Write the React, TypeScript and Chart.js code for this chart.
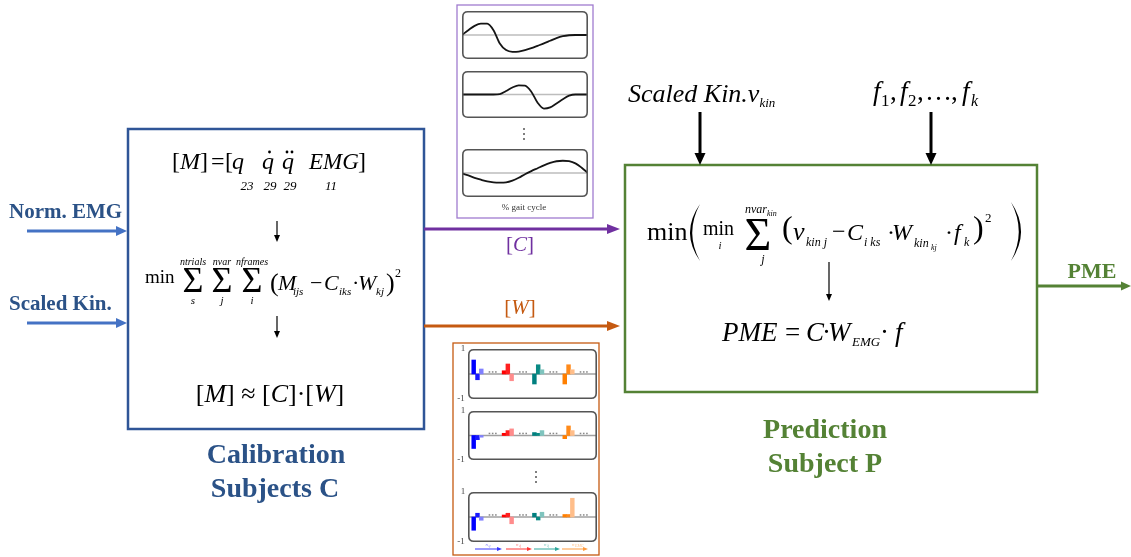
import React, { useEffect, useRef } from "react";
import { Chart, registerables } from "chart.js";
Chart.register(...registerables);

const FONT = '"Liberation Serif", "Times New Roman", serif';

// [C] inset: synergy activation curves over the gait cycle
const gaitCycle = [0, 5, 10, 15, 20, 25, 30, 35, 40, 45, 50, 55, 60, 65, 70, 75, 80, 85, 90, 95, 100];
const synergyC1 = [0, 0.2, 0.38, 0.47, 0.47, 0.2, -0.35, -0.63, -0.7, -0.69, -0.63, -0.55, -0.45, -0.35, -0.24, -0.13, -0.05, -0.01, 0, 0, 0];
const synergyC2 = [0, 0, 0, 0, 0, 0, 0.02, 0.15, 0.3, 0.39, 0.38, 0.12, -0.35, -0.6, -0.55, -0.38, -0.2, -0.05, 0, 0, 0];
const synergyC3 = [-0.02, -0.1, -0.2, -0.28, -0.35, -0.39, -0.4, -0.39, -0.32, -0.2, -0.05, 0.08, 0.2, 0.32, 0.42, 0.49, 0.51, 0.49, 0.4, 0.22, 0];

// [W] inset: synergy weights, three shown per variable group
const variableGroups = ["q", "q\u0307", "q\u0308", "EMG"];
const weightsW1 = [0.56, -0.23, 0.2, 0.13, 0.4, -0.27, -0.4, 0.37, 0.17, -0.4, 0.37, 0.17];
const weightsW2 = [-0.53, -0.17, -0.07, 0.09, 0.2, 0.27, 0.12, 0.09, 0.2, -0.13, 0.39, 0.2];
const weightsW3 = [-0.53, 0.15, -0.13, 0.08, 0.15, -0.27, 0.15, -0.12, 0.19, 0.1, 0.1, 0.75];
const weightTicks = [1, -1];
const weightTickLabels = ["1", "-1"];

const groupColors = [
  ["#0000FF", "#1A1AFF", "#8080FF"],
  ["#FF0000", "#FF2020", "#FF8C8C"],
  ["#007F7F", "#0A8A84", "#7FC4BE"],
  ["#FF7F00", "#FF8A1A", "#FFBE8A"],
];
const arrowColors = ["#3535FF", "#FF3535", "#2FA79C", "#FF9B3D"];

const EMPTY_AFTER = 5;

function buildSlots(w: number[]) {
  const vals: (number | null)[] = [null];
  const cols: string[] = ["#fff"];
  const labels: string[] = ["start"];
  variableGroups.forEach((g, gi) => {
    for (let k = 0; k < 3; k++) {
      vals.push(w[gi * 3 + k]);
      cols.push(groupColors[gi][k]);
      labels.push(g + (k + 1));
    }
    for (let k = 0; k < EMPTY_AFTER; k++) {
      vals.push(null);
      cols.push("#fff");
      labels.push(g + "-gap" + k);
    }
  });
  vals.push(null);
  cols.push("#fff");
  labels.push("end");
  return { vals, cols, labels };
}

function roundRect(ctx: CanvasRenderingContext2D, x: number, y: number, w: number, h: number, r: number) {
  ctx.beginPath();
  ctx.moveTo(x + r, y);
  ctx.lineTo(x + w - r, y);
  ctx.quadraticCurveTo(x + w, y, x + w, y + r);
  ctx.lineTo(x + w, y + h - r);
  ctx.quadraticCurveTo(x + w, y + h, x + w - r, y + h);
  ctx.lineTo(x + r, y + h);
  ctx.quadraticCurveTo(x, y + h, x, y + h - r);
  ctx.lineTo(x, y + r);
  ctx.quadraticCurveTo(x, y, x + r, y);
  ctx.closePath();
}

const curvePanelPlugin = {
  id: "curvePanel",
  beforeDatasetsDraw(chart: any) {
    const { ctx, chartArea: a, scales } = chart;
    const y0 = scales.y.getPixelForValue(0);
    ctx.save();
    ctx.strokeStyle = "#BDBDBD";
    ctx.lineWidth = 1.5;
    ctx.beginPath();
    ctx.moveTo(a.left, y0);
    ctx.lineTo(a.right, y0);
    ctx.stroke();
    ctx.restore();
  },
  afterDraw(chart: any) {
    const { ctx, chartArea: a } = chart;
    ctx.save();
    ctx.strokeStyle = "#555";
    ctx.lineWidth = 1.6;
    roundRect(ctx, a.left + 0.8, a.top + 0.8, a.right - a.left - 1.6, a.bottom - a.top - 1.6, 5);
    ctx.stroke();
    ctx.restore();
  },
};

const weightPanelPlugin = {
  id: "weightPanel",
  beforeDatasetsDraw(chart: any) {
    const { ctx, chartArea: a, scales } = chart;
    const y0 = scales.y.getPixelForValue(0);
    ctx.save();
    ctx.strokeStyle = "#A0A0A0";
    ctx.lineWidth = 1.3;
    ctx.beginPath();
    ctx.moveTo(a.left, y0);
    ctx.lineTo(a.right, y0);
    ctx.stroke();
    // "..." between groups
    ctx.fillStyle = "#888";
    variableGroups.forEach((_, gi) => {
      const idx = 1 + gi * (3 + EMPTY_AFTER) + 3 + Math.floor(EMPTY_AFTER / 2);
      const cx = scales.x.getPixelForValue(idx);
      for (let d = -1; d <= 1; d++) ctx.fillRect(cx + d * 3.2 - 0.8, y0 - 2.8, 1.6, 1.5);
    });
    // axis labels 1 / -1
    ctx.font = `normal 9px ${FONT}`;
    ctx.fillStyle = "#444";
    ctx.textAlign = "center";
    ctx.textBaseline = "middle";
    weightTicks.forEach((v, i) => {
      ctx.fillText(weightTickLabels[i], a.left - (v < 0 ? 7 : 5), scales.y.getPixelForValue(v));
    });
    ctx.restore();
  },
  afterDatasetsDraw(chart: any) {
    const { ctx, chartArea: a } = chart;
    ctx.save();
    ctx.strokeStyle = "#555";
    ctx.lineWidth = 1.6;
    roundRect(ctx, a.left + 0.8, a.top + 0.8, a.right - a.left - 1.6, a.bottom - a.top - 1.6, 5);
    ctx.stroke();
    ctx.restore();
  },
};

function curveConfig(values: number[]): any {
  return {
    type: "line",
    data: {
      labels: gaitCycle.map(String),
      datasets: [
        {
          data: values,
          borderColor: "#151515",
          borderWidth: 1.8,
          pointRadius: 0,
          cubicInterpolationMode: "monotone",
          fill: false,
        },
      ],
    },
    options: {
      animation: false,
      responsive: false,
      events: [],
      layout: { padding: 0 },
      plugins: { legend: { display: false }, tooltip: { enabled: false } },
      scales: {
        x: { display: false },
        y: { display: false, min: -1, max: 1 },
      },
    },
    plugins: [curvePanelPlugin],
  };
}

function weightConfig(w: number[]): any {
  const s = buildSlots(w);
  return {
    type: "bar",
    data: {
      labels: s.labels,
      datasets: [
        {
          data: s.vals,
          backgroundColor: s.cols,
          borderWidth: 0,
          barPercentage: 1,
          categoryPercentage: 1,
        },
      ],
    },
    options: {
      animation: false,
      responsive: false,
      events: [],
      layout: { padding: { top: 5, bottom: 5, left: 13, right: 1 } },
      plugins: { legend: { display: false }, tooltip: { enabled: false } },
      scales: {
        x: { display: false },
        y: { display: false, min: -1, max: 1 },
      },
    },
    plugins: [weightPanelPlugin],
  };
}

type Part = [string, number, string, number?];

function setFont(ctx: CanvasRenderingContext2D, size: number, style: string) {
  ctx.font = `${style} ${size}px ${FONT}`;
}

function txt(ctx: CanvasRenderingContext2D, s: string, x: number, y: number, size: number, style: string, color: string, align: CanvasTextAlign = "left") {
  setFont(ctx, size, style);
  ctx.fillStyle = color;
  ctx.textAlign = align;
  ctx.textBaseline = "alphabetic";
  ctx.fillText(s, x, y);
  return x + ctx.measureText(s).width;
}

function flowWidth(ctx: CanvasRenderingContext2D, parts: Part[]) {
  let w = 0;
  for (const p of parts) {
    setFont(ctx, p[1], p[2]);
    w += ctx.measureText(p[0]).width;
  }
  return w;
}

function flow(ctx: CanvasRenderingContext2D, x: number, y: number, parts: Part[], color: string) {
  for (const p of parts) x = txt(ctx, p[0], x, y + (p[3] || 0), p[1], p[2], color);
  return x;
}

function arrow(ctx: CanvasRenderingContext2D, x1: number, y1: number, x2: number, y2: number, color: string, lw: number, hl: number, hw: number) {
  const ang = Math.atan2(y2 - y1, x2 - x1);
  const bx = x2 - hl * Math.cos(ang);
  const by = y2 - hl * Math.sin(ang);
  ctx.strokeStyle = color;
  ctx.lineWidth = lw;
  ctx.beginPath();
  ctx.moveTo(x1, y1);
  ctx.lineTo(bx + 0.5 * Math.cos(ang), by + 0.5 * Math.sin(ang));
  ctx.stroke();
  ctx.fillStyle = color;
  ctx.beginPath();
  ctx.moveTo(x2, y2);
  ctx.lineTo(bx + (hw / 2) * Math.sin(ang), by - (hw / 2) * Math.cos(ang));
  ctx.lineTo(bx - (hw / 2) * Math.sin(ang), by + (hw / 2) * Math.cos(ang));
  ctx.closePath();
  ctx.fill();
}

const BLUE = "#2F5597";
const BLUE_TXT = "#2B5287";
const BLUE_ARROW = "#4472C4";
const GREEN = "#548235";
const PURPLE = "#7030A0";
const PURPLE_BOX = "#A07CCF";
const ORANGE = "#C55A11";
const K = "#000";

const diagramPlugin = {
  id: "diagram",
  beforeDraw(chart: any) {
    const { ctx, width, height } = chart;
    ctx.save();
    ctx.fillStyle = "#fff";
    ctx.fillRect(0, 0, width, height);
    ctx.restore();
  },
  afterDraw(chart: any) {
    const { ctx, scales } = chart;
    const X = (v: number) => scales.x.getPixelForValue(v);
    const Y = (v: number) => scales.y.getPixelForValue(v);
    ctx.save();

    // boxes
    ctx.lineWidth = 2.5;
    ctx.strokeStyle = BLUE;
    ctx.strokeRect(X(128), Y(129), X(424) - X(128), Y(429) - Y(129));
    ctx.strokeStyle = GREEN;
    ctx.strokeRect(X(625), Y(165), X(1037) - X(625), Y(392) - Y(165));
    ctx.lineWidth = 1.3;
    ctx.strokeStyle = PURPLE_BOX;
    ctx.strokeRect(X(457), Y(5), X(593) - X(457), Y(218) - Y(5));
    ctx.strokeStyle = ORANGE;
    ctx.strokeRect(X(453), Y(343), X(599) - X(453), Y(555) - Y(343));

    // inputs on the left
    txt(ctx, "Norm. EMG", X(9), Y(218), 21, "bold", BLUE_TXT);
    arrow(ctx, X(27), Y(231), X(127), Y(231), BLUE_ARROW, 3, 11, 10);
    txt(ctx, "Scaled Kin.", X(9), Y(310), 21, "bold", BLUE_TXT);
    arrow(ctx, X(27), Y(323), X(127), Y(323), BLUE_ARROW, 3, 11, 10);

    // calibration box content
    let x = X(172);
    const b1 = Y(169);
    x = txt(ctx, "[", x, b1, 24, "normal", K);
    x = txt(ctx, "M", x, b1, 24, "italic", K);
    x = txt(ctx, "]", x, b1, 24, "normal", K);
    txt(ctx, "=", X(211), b1, 24, "normal", K);
    txt(ctx, "[", X(225), b1, 24, "normal", K);
    txt(ctx, "q", X(232), b1, 24, "italic", K);
    txt(ctx, "q", X(262), b1, 24, "italic", K);
    txt(ctx, "q", X(282), b1, 24, "italic", K);
    ctx.fillStyle = K;
    ctx.beginPath();
    ctx.arc(X(269.5), Y(152), 1.4, 0, Math.PI * 2);
    ctx.arc(X(287), Y(152), 1.4, 0, Math.PI * 2);
    ctx.fill();
    ctx.beginPath();
    ctx.arc(X(292), Y(152), 1.4, 0, Math.PI * 2);
    ctx.fill();
    txt(ctx, "EMG", X(309), b1, 23, "italic", K);
    txt(ctx, "]", X(358), b1, 24, "normal", K);
    txt(ctx, "23", X(247), Y(190), 13, "italic", K, "center");
    txt(ctx, "29", X(270), Y(190), 13, "italic", K, "center");
    txt(ctx, "29", X(290), Y(190), 13, "italic", K, "center");
    txt(ctx, "11", X(331), Y(190), 13, "italic", K, "center");

    arrow(ctx, X(277), Y(221), X(277), Y(242), K, 1.2, 7, 6);

    txt(ctx, "min", X(145), Y(283), 19, "normal", K);
    [193, 222, 252].forEach((cx, i) => {
      txt(ctx, "\u03A3", X(cx), Y(292), 36, "normal", K, "center");
      txt(ctx, ["ntrials", "nvar", "nframes"][i], X(cx), Y(265), 10, "italic", K, "center");
      txt(ctx, ["s", "j", "i"][i], X(cx), Y(304), 11, "italic", K, "center");
    });
    txt(ctx, "(", X(270), Y(291), 26, "normal", K);
    txt(ctx, "M", X(278), Y(290), 22, "italic", K);
    txt(ctx, "ijs", X(293), Y(295), 11, "italic", K);
    txt(ctx, "\u2212", X(310), Y(290), 22, "normal", K);
    txt(ctx, "C", X(324), Y(290), 22, "italic", K);
    txt(ctx, "iks", X(339), Y(295), 11, "italic", K);
    txt(ctx, "\u00B7", X(352), Y(290), 22, "normal", K);
    txt(ctx, "W", X(358), Y(290), 22, "italic", K);
    txt(ctx, "kj", X(376), Y(295), 11, "italic", K);
    txt(ctx, ")", X(386), Y(291), 26, "normal", K);
    txt(ctx, "2", X(395), Y(277), 12, "normal", K);

    arrow(ctx, X(277), Y(316), X(277), Y(338), K, 1.2, 7, 6);

    const f3: Part[] = [
      ["[", 26, "normal"], ["M", 26, "italic"], ["]", 26, "normal"], [" \u2248 ", 26, "normal"],
      ["[", 26, "normal"], ["C", 26, "italic"], ["]", 26, "normal"], ["\u00B7", 26, "normal"],
      ["[", 26, "normal"], ["W", 26, "italic"], ["]", 26, "normal"],
    ];
    flow(ctx, X(270) - flowWidth(ctx, f3) / 2, Y(402), f3, K);

    txt(ctx, "Calibration", X(276), Y(463), 28, "bold", BLUE_TXT, "center");
    txt(ctx, "Subjects C", X(275), Y(497), 28, "bold", BLUE_TXT, "center");

    // [C] / [W] arrows
    arrow(ctx, X(424), Y(229), X(620), Y(229), PURPLE, 3, 13, 10);
    const fc: Part[] = [["[", 21, "normal"], ["C", 21, "italic"], ["]", 21, "normal"]];
    flow(ctx, X(520) - flowWidth(ctx, fc) / 2, Y(251), fc, PURPLE);
    arrow(ctx, X(424), Y(326), X(620), Y(326), ORANGE, 3, 13, 10);
    const fw: Part[] = [["[", 21, "normal"], ["W", 21, "italic"], ["]", 21, "normal"]];
    flow(ctx, X(520) - flowWidth(ctx, fw) / 2, Y(314), fw, ORANGE);

    // inset decorations
    txt(ctx, "% gait cycle", X(524), Y(210), 9, "normal", "#333", "center");
    ctx.fillStyle = "#555";
    [129, 134, 139].forEach((yy) => {
      ctx.beginPath();
      ctx.arc(X(524), Y(yy), 1, 0, Math.PI * 2);
      ctx.fill();
    });
    [472, 477, 482].forEach((yy) => {
      ctx.beginPath();
      ctx.arc(X(536), Y(yy), 1, 0, Math.PI * 2);
      ctx.fill();
    });
    const arrowSpans = [[475, 502], [506, 532], [534, 560], [562, 588]];
    arrowSpans.forEach(([a, bb], i) => {
      arrow(ctx, X(a), Y(549), X(bb), Y(549), arrowColors[i], 1, 5, 4);
      const cx = (a + bb) / 2;
      ctx.globalAlpha = 0.6;
      txt(ctx, "n", X(cx - 3), Y(546), 5, "italic", arrowColors[i]);
      txt(ctx, variableGroups[i], X(cx), Y(547), 4, "italic", arrowColors[i]);
      ctx.globalAlpha = 1;
    });

    // prediction inputs
    x = txt(ctx, "Scaled Kin.v", X(628), Y(102), 26, "italic", K);
    txt(ctx, "kin", x, Y(107), 13, "italic", K);
    txt(ctx, "f", X(873), Y(100), 27, "italic", K);
    txt(ctx, "1", X(881), Y(106), 17, "normal", K);
    txt(ctx, ",", X(890), Y(100), 27, "normal", K);
    txt(ctx, "f", X(900), Y(100), 27, "italic", K);
    txt(ctx, "2", X(908), Y(106), 17, "normal", K);
    txt(ctx, ",", X(917), Y(100), 27, "normal", K);
    txt(ctx, "\u2026", X(925), Y(100), 27, "normal", K);
    txt(ctx, ",", X(951), Y(100), 27, "normal", K);
    txt(ctx, "f", X(962), Y(100), 27, "italic", K);
    txt(ctx, "k", X(971), Y(106), 16, "italic", K);
    arrow(ctx, X(700), Y(112), X(700), Y(165), K, 3, 12, 11);
    arrow(ctx, X(931), Y(112), X(931), Y(165), K, 3, 12, 11);

    // prediction box content
    const gb = Y(240);
    txt(ctx, "min", X(647), gb, 26, "normal", K);
    // big parentheses
    ctx.fillStyle = K;
    ctx.beginPath();
    ctx.moveTo(X(700), Y(204));
    ctx.quadraticCurveTo(X(680), Y(232.5), X(700), Y(261));
    ctx.quadraticCurveTo(X(684.5), Y(232.5), X(700), Y(204));
    ctx.fill();
    ctx.beginPath();
    ctx.moveTo(X(1011), Y(202));
    ctx.quadraticCurveTo(X(1031), Y(231.5), X(1011), Y(261));
    ctx.quadraticCurveTo(X(1026.5), Y(231.5), X(1011), Y(202));
    ctx.fill();
    txt(ctx, "min", X(703), Y(235), 20, "normal", K);
    txt(ctx, "i", X(720), Y(249), 11, "italic", K, "center");
    txt(ctx, "\u03A3", X(758), Y(250), 46, "normal", K, "center");
    x = txt(ctx, "nvar", X(745), Y(213), 12, "italic", K);
    txt(ctx, "kin", x, Y(216), 8, "italic", K);
    txt(ctx, "j", X(763), Y(263), 12, "italic", K, "center");
    txt(ctx, "(", X(782), Y(238), 32, "normal", K);
    txt(ctx, "v", X(793), gb, 26, "italic", K);
    txt(ctx, "kin j", X(806), Y(246), 12, "italic", K);
    txt(ctx, "\u2212", X(832), Y(239), 24, "normal", K);
    txt(ctx, "C", X(847), gb, 24, "italic", K);
    txt(ctx, "i ks", X(864), Y(246), 12, "italic", K);
    txt(ctx, "\u00B7", X(887), gb, 24, "normal", K);
    txt(ctx, "W", X(892), gb, 24, "italic", K);
    txt(ctx, "kin", X(914), Y(247), 12, "italic", K);
    txt(ctx, "kj", X(931), Y(250), 8, "italic", K);
    txt(ctx, "\u00B7", X(945), gb, 24, "normal", K);
    txt(ctx, "f", X(954), gb, 24, "italic", K);
    txt(ctx, "k", X(964), Y(246), 12, "italic", K);
    txt(ctx, ")", X(973), Y(238), 32, "normal", K);
    txt(ctx, "2", X(985), Y(222), 13, "normal", K);

    arrow(ctx, X(829), Y(262), X(829), Y(301), K, 1.2, 7, 6);

    const pb = Y(341);
    txt(ctx, "PME", X(722), pb, 27, "italic", K);
    txt(ctx, "=", X(785), pb, 27, "normal", K);
    txt(ctx, "C", X(806), pb, 27, "italic", K);
    txt(ctx, "\u00B7", X(822), pb, 27, "normal", K);
    txt(ctx, "W", X(828), pb, 27, "italic", K);
    txt(ctx, "EMG", X(852), Y(346), 13, "italic", K);
    txt(ctx, "\u00B7", X(880), pb, 27, "normal", K);
    txt(ctx, "f", X(895), pb, 27, "italic", K);

    txt(ctx, "Prediction", X(825), Y(438), 28, "bold", GREEN, "center");
    txt(ctx, "Subject P", X(825), Y(472), 28, "bold", GREEN, "center");

    // output
    arrow(ctx, X(1037), Y(286), X(1131), Y(286), GREEN, 3, 10, 9);
    txt(ctx, "PME", X(1092), Y(278), 22, "bold", GREEN, "center");

    ctx.restore();
  },
};

function diagramConfig(): any {
  return {
    type: "scatter",
    data: { datasets: [{ data: [] }] },
    options: {
      animation: false,
      responsive: false,
      events: [],
      layout: { padding: 0 },
      plugins: { legend: { display: false }, tooltip: { enabled: false } },
      scales: {
        x: { type: "linear", min: 0, max: 1131, display: false },
        y: { type: "linear", min: 0, max: 557, reverse: true, display: false },
      },
    },
    plugins: [diagramPlugin],
  };
}

function ChartBox(props: { left: number; top: number; width: number; height: number; make: () => any }) {
  const ref = useRef<HTMLCanvasElement>(null);
  useEffect(() => {
    const c = new Chart(ref.current as HTMLCanvasElement, props.make());
    return () => c.destroy();
  }, []);
  return (
    <canvas
      ref={ref}
      width={props.width}
      height={props.height}
      style={{ position: "absolute", left: props.left, top: props.top, width: props.width, height: props.height }}
    />
  );
}

export default function App() {
  const curvePanels = [
    { top: 11, h: 48, data: synergyC1 },
    { top: 71, h: 47, data: synergyC2 },
    { top: 149, h: 48, data: synergyC3 },
  ];
  const weightPanels = [
    { top: 349, h: 50, data: weightsW1 },
    { top: 411, h: 49, data: weightsW2 },
    { top: 492, h: 50, data: weightsW3 },
  ];
  return (
    <div style={{ position: "fixed", left: 0, top: 0, width: 1131, height: 557, background: "#fff", overflow: "hidden" }}>
      <ChartBox left={0} top={0} width={1131} height={557} make={diagramConfig} />
      {curvePanels.map((p, i) => (
        <ChartBox key={"c" + i} left={462} top={p.top} width={126} height={p.h} make={() => curveConfig(p.data)} />
      ))}
      {weightPanels.map((p, i) => (
        <ChartBox key={"w" + i} left={455} top={p.top - 5} width={143} height={p.h + 10} make={() => weightConfig(p.data)} />
      ))}
    </div>
  );
}
